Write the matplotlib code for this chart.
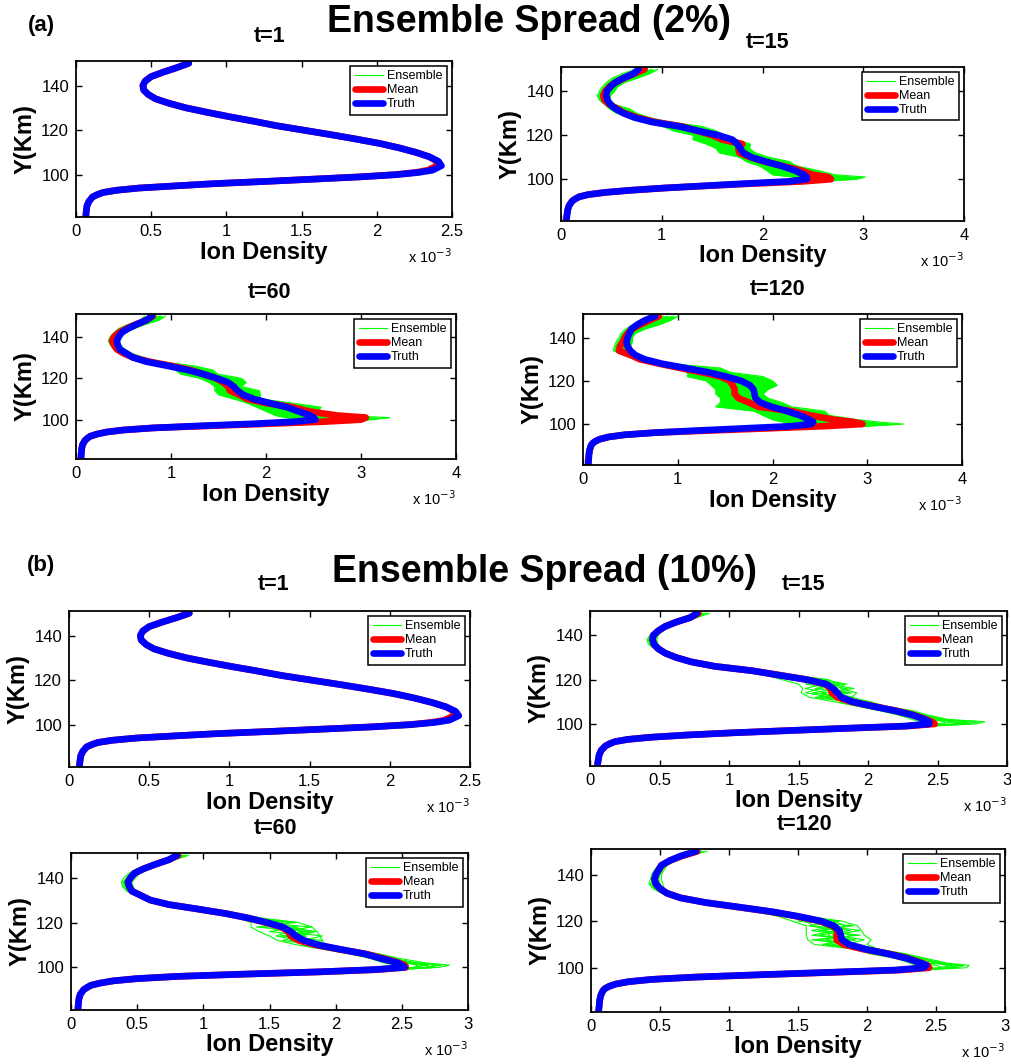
import numpy as np
import matplotlib
matplotlib.use('Agg')
import matplotlib.pyplot as plt

plt.rcParams['font.family'] = ['Liberation Sans', 'DejaVu Sans']

# altitude grid (km): lower branch shared by all members, upper part where the ensemble spreads
alt_low = [81, 82, 84, 86, 88, 90, 91, 92, 93, 94, 95, 96]
alt_up = [97, 98, 99, 100, 101, 102, 104, 106, 108, 110, 112, 114, 116, 118, 120,
          122, 124, 126, 128, 130, 132, 134, 136, 138, 140, 142, 144, 146, 148, 150]

# ion density (x 1e-3) - truth profiles
truth_t1 = [0.066, 0.066, 0.069, 0.073, 0.086, 0.11, 0.14, 0.18, 0.27, 0.42, 0.67, 0.93,
            1.27, 1.58, 1.89, 2.13, 2.28, 2.37, 2.43, 2.41, 2.35, 2.26, 2.15, 2.02, 1.86, 1.69, 1.51,
            1.33, 1.18, 1.02, 0.87, 0.73, 0.62, 0.53, 0.48, 0.45, 0.445, 0.46, 0.50, 0.58, 0.67, 0.75]
truth_t15 = [0.055, 0.055, 0.06, 0.066, 0.08, 0.11, 0.14, 0.18, 0.27, 0.44, 0.70, 1.03,
             1.43, 1.83, 2.26, 2.44, 2.44, 2.41, 2.32, 2.19, 2.03, 1.89, 1.81, 1.78, 1.75, 1.70, 1.56,
             1.36, 1.17, 0.90, 0.73, 0.62, 0.54, 0.49, 0.46, 0.45, 0.455, 0.49, 0.54, 0.62, 0.72, 0.77]
truth_t60 = [0.053, 0.053, 0.056, 0.06, 0.07, 0.095, 0.12, 0.15, 0.22, 0.32, 0.50, 0.81,
             1.31, 1.87, 2.29, 2.52, 2.50, 2.47, 2.34, 2.22, 2.04, 1.87, 1.76, 1.70, 1.66, 1.60, 1.48,
             1.34, 1.17, 0.96, 0.74, 0.60, 0.53, 0.46, 0.44, 0.43, 0.45, 0.48, 0.55, 0.64, 0.74, 0.80]
truth_t120 = [0.056, 0.056, 0.06, 0.063, 0.07, 0.085, 0.10, 0.13, 0.18, 0.27, 0.44, 0.76,
              1.22, 1.71, 2.20, 2.41, 2.43, 2.39, 2.29, 2.15, 1.99, 1.87, 1.82, 1.81, 1.80, 1.76, 1.67,
              1.51, 1.32, 1.08, 0.83, 0.65, 0.55, 0.50, 0.47, 0.46, 0.47, 0.49, 0.51, 0.57, 0.65, 0.76]

# ensemble means (upper grid)
mean_t1 = [1.27, 1.58, 1.88, 2.12, 2.26, 2.34, 2.40, 2.40, 2.35, 2.26, 2.15, 2.02, 1.86, 1.69, 1.51,
           1.33, 1.18, 1.02, 0.87, 0.73, 0.62, 0.53, 0.48, 0.45, 0.445, 0.46, 0.50, 0.58, 0.67, 0.75]
mean_a15 = [1.45, 1.9, 2.4, 2.68, 2.65, 2.5, 2.38, 2.2, 2.02, 1.88, 1.77, 1.76, 1.8, 1.6, 1.5,
            1.35, 1.2, 0.93, 0.76, 0.63, 0.56, 0.48, 0.43, 0.42, 0.44, 0.48, 0.54, 0.63, 0.73, 0.83]
mean_a60 = [1.4, 2.0, 2.6, 3.0, 3.05, 2.75, 2.45, 2.28, 2.0, 1.8, 1.72, 1.62, 1.6, 1.55, 1.47,
            1.34, 1.2, 1.0, 0.77, 0.6, 0.5, 0.43, 0.4, 0.38, 0.40, 0.45, 0.53, 0.63, 0.74, 0.81]
mean_a120 = [1.35, 1.95, 2.55, 2.95, 2.85, 2.65, 2.4, 2.2, 1.85, 1.75, 1.64, 1.6, 1.6, 1.58, 1.55,
             1.45, 1.25, 1.02, 0.8, 0.6, 0.5, 0.38, 0.39, 0.42, 0.44, 0.47, 0.52, 0.6, 0.7, 0.8]
mean_b15 = [1.43, 1.84, 2.28, 2.48, 2.46, 2.42, 2.33, 2.2, 2.04, 1.88, 1.78, 1.74, 1.73, 1.69, 1.56,
            1.37, 1.17, 0.9, 0.73, 0.62, 0.54, 0.49, 0.46, 0.45, 0.455, 0.49, 0.54, 0.62, 0.72, 0.78]
mean_b60 = [1.32, 1.88, 2.32, 2.53, 2.52, 2.48, 2.36, 2.23, 2.03, 1.85, 1.72, 1.66, 1.64, 1.59, 1.47,
            1.34, 1.17, 0.96, 0.74, 0.6, 0.53, 0.46, 0.44, 0.43, 0.45, 0.48, 0.55, 0.64, 0.74, 0.81]
mean_b120 = [1.24, 1.74, 2.24, 2.45, 2.44, 2.4, 2.3, 2.16, 1.97, 1.83, 1.78, 1.78, 1.79, 1.75, 1.66,
             1.5, 1.31, 1.07, 0.83, 0.65, 0.55, 0.5, 0.47, 0.46, 0.47, 0.49, 0.51, 0.57, 0.66, 0.77]

# ensemble members (upper grid)
ens_t1 = [
    [1.27, 1.58, 1.88, 2.11, 2.25, 2.33, 2.37, 2.39, 2.35, 2.26, 2.15, 2.02, 1.86, 1.69, 1.51,
     1.33, 1.18, 1.02, 0.87, 0.73, 0.62, 0.53, 0.48, 0.45, 0.445, 0.46, 0.50, 0.58, 0.67, 0.75],
    [1.27, 1.58, 1.89, 2.13, 2.28, 2.37, 2.44, 2.41, 2.35, 2.26, 2.15, 2.02, 1.86, 1.69, 1.51,
     1.33, 1.18, 1.02, 0.87, 0.73, 0.62, 0.53, 0.48, 0.45, 0.445, 0.46, 0.50, 0.58, 0.67, 0.75],
]
ens_a15 = [
    [1.52, 2.05, 2.6, 2.93, 3.02, 2.72, 2.55, 2.33, 2.27, 2.06, 1.93, 1.87, 1.88, 1.74, 1.62,
     1.54, 1.4, 1.08, 0.88, 0.75, 0.68, 0.53, 0.49, 0.49, 0.53, 0.56, 0.63, 0.76, 0.88, 0.96],
    [1.36, 1.77, 2.1, 2.37, 2.3, 2.1, 2.04, 1.97, 1.84, 1.77, 1.57, 1.54, 1.44, 1.31, 1.31,
     1.11, 1.04, 0.84, 0.71, 0.55, 0.48, 0.43, 0.38, 0.36, 0.38, 0.41, 0.45, 0.51, 0.61, 0.74],
    [1.48, 1.95, 2.45, 2.72, 2.86, 2.6, 2.44, 2.26, 2.1, 1.95, 1.74, 1.68, 1.62, 1.5, 1.45,
     1.28, 1.26, 0.96, 0.78, 0.66, 0.6, 0.47, 0.42, 0.41, 0.44, 0.47, 0.58, 0.68, 0.8, 0.9],
    [1.44, 1.9, 2.35, 2.6, 2.66, 2.5, 2.28, 2.1, 1.95, 1.83, 1.88, 1.72, 1.8, 1.6, 1.55,
     1.46, 1.12, 0.92, 0.75, 0.6, 0.52, 0.5, 0.44, 0.4, 0.42, 0.52, 0.5, 0.58, 0.7, 0.82],
    [1.5, 2.0, 2.5, 2.82, 2.75, 2.65, 2.5, 2.35, 2.15, 2.0, 1.62, 1.6, 1.7, 1.45, 1.4,
     1.2, 1.0, 0.88, 0.7, 0.58, 0.5, 0.45, 0.4, 0.38, 0.4, 0.44, 0.48, 0.55, 0.66, 0.8],
    [1.4, 1.85, 2.2, 2.5, 2.55, 2.3, 2.15, 2.05, 1.9, 1.9, 1.7, 1.82, 1.55, 1.65, 1.5,
     1.38, 1.3, 1.0, 0.82, 0.7, 0.55, 0.48, 0.45, 0.43, 0.46, 0.5, 0.56, 0.65, 0.76, 0.86],
]
ens_a60 = [
    [1.5, 2.28, 2.88, 3.1, 3.3, 2.78, 2.54, 2.58, 2.28, 1.94, 1.94, 1.93, 1.74, 1.79, 1.74,
     1.49, 1.44, 1.24, 0.89, 0.71, 0.59, 0.51, 0.47, 0.45, 0.47, 0.51, 0.61, 0.73, 0.87, 0.94],
    [1.3, 1.8, 2.1, 2.4, 2.2, 2.1, 2.0, 1.9, 1.8, 1.66, 1.5, 1.46, 1.46, 1.4, 1.3,
     1.1, 1.05, 0.9, 0.68, 0.55, 0.45, 0.40, 0.36, 0.34, 0.36, 0.40, 0.45, 0.55, 0.68, 0.72],
    [1.42, 2.1, 2.7, 2.95, 3.1, 2.6, 2.4, 2.35, 2.1, 1.8, 1.85, 1.6, 1.55, 1.7, 1.45,
     1.42, 1.3, 1.1, 0.8, 0.62, 0.55, 0.45, 0.42, 0.38, 0.40, 0.46, 0.5, 0.6, 0.78, 0.85],
    [1.36, 1.95, 2.45, 2.75, 2.8, 2.45, 2.25, 2.15, 1.95, 1.75, 1.65, 1.85, 1.65, 1.5, 1.6,
     1.25, 1.15, 0.95, 0.72, 0.65, 0.5, 0.48, 0.4, 0.4, 0.43, 0.44, 0.56, 0.66, 0.72, 0.8],
    [1.45, 2.2, 2.8, 3.05, 2.9, 2.7, 2.45, 2.2, 2.2, 1.9, 1.6, 1.55, 1.7, 1.55, 1.35,
     1.35, 1.2, 1.05, 0.75, 0.58, 0.48, 0.42, 0.38, 0.36, 0.38, 0.42, 0.5, 0.58, 0.74, 0.88],
    [1.34, 1.9, 2.3, 2.6, 2.5, 2.3, 2.1, 2.0, 1.85, 1.7, 1.78, 1.5, 1.5, 1.65, 1.5,
     1.2, 1.1, 0.98, 0.7, 0.68, 0.58, 0.5, 0.45, 0.42, 0.45, 0.48, 0.58, 0.7, 0.8, 0.9],
]
ens_a120 = [
    [1.5, 2.3, 3.0, 3.38, 3.1, 2.9, 2.6, 2.55, 2.2, 2.1, 1.95, 1.9, 1.95, 2.05, 2.0,
     1.9, 1.55, 1.45, 0.9, 0.72, 0.6, 0.52, 0.5, 0.52, 0.52, 0.55, 0.65, 0.8, 0.92, 1.0],
    [1.2, 1.6, 2.0, 2.2, 2.1, 2.0, 1.9, 1.8, 1.4, 1.45, 1.45, 1.4, 1.4, 1.35, 1.3,
     1.1, 1.1, 0.95, 0.75, 0.55, 0.42, 0.32, 0.33, 0.35, 0.38, 0.40, 0.45, 0.52, 0.65, 0.7],
    [1.4, 2.1, 2.7, 3.1, 2.95, 2.7, 2.35, 2.3, 1.9, 1.95, 1.7, 1.55, 1.75, 1.6, 1.8,
     1.6, 1.4, 1.15, 0.82, 0.65, 0.5, 0.4, 0.42, 0.4, 0.45, 0.5, 0.55, 0.7, 0.85, 0.9],
    [1.3, 1.85, 2.4, 2.75, 2.6, 2.45, 2.2, 2.05, 1.7, 1.6, 1.85, 1.7, 1.5, 1.85, 1.55,
     1.3, 1.25, 1.05, 0.78, 0.6, 0.55, 0.45, 0.38, 0.45, 0.42, 0.45, 0.5, 0.6, 0.72, 0.85],
    [1.45, 2.2, 2.85, 3.2, 2.8, 2.55, 2.5, 2.4, 2.05, 1.8, 1.6, 1.8, 1.65, 1.45, 1.4,
     1.75, 1.35, 1.3, 0.85, 0.7, 0.45, 0.35, 0.36, 0.38, 0.4, 0.48, 0.6, 0.75, 0.8, 0.95],
    [1.25, 1.75, 2.25, 2.5, 2.35, 2.2, 2.0, 1.95, 1.55, 1.7, 1.55, 1.45, 1.85, 1.7, 1.65,
     1.4, 1.2, 1.0, 0.8, 0.62, 0.52, 0.48, 0.45, 0.48, 0.5, 0.52, 0.6, 0.68, 0.78, 0.88],
]
ens_b15 = [
    [1.47, 1.95, 2.45, 2.78, 2.84, 2.58, 2.43, 2.32, 2.12, 2.02, 1.88, 1.92, 1.8, 1.83, 1.7,
     1.48, 1.24, 0.94, 0.77, 0.65, 0.57, 0.52, 0.49, 0.48, 0.49, 0.52, 0.57, 0.65, 0.77, 0.86],
    [1.41, 1.81, 2.22, 2.4, 2.37, 2.32, 2.22, 2.08, 1.92, 1.76, 1.58, 1.52, 1.53, 1.5, 1.38,
     1.27, 1.11, 0.86, 0.69, 0.59, 0.51, 0.46, 0.42, 0.41, 0.43, 0.47, 0.52, 0.59, 0.69, 0.76],
    [1.45, 1.9, 2.4, 2.65, 2.7, 2.5, 2.38, 2.25, 2.08, 1.95, 1.7, 1.85, 1.62, 1.78, 1.65,
     1.42, 1.2, 0.92, 0.75, 0.64, 0.56, 0.51, 0.48, 0.47, 0.48, 0.51, 0.56, 0.64, 0.75, 0.82],
    [1.42, 1.86, 2.3, 2.55, 2.55, 2.45, 2.3, 2.15, 2.0, 1.82, 1.85, 1.6, 1.78, 1.55, 1.6,
     1.32, 1.15, 0.88, 0.71, 0.6, 0.52, 0.47, 0.44, 0.43, 0.44, 0.48, 0.53, 0.6, 0.7, 0.79],
    [1.44, 1.88, 2.35, 2.72, 2.6, 2.55, 2.4, 2.28, 2.1, 1.98, 1.65, 1.7, 1.55, 1.68, 1.45,
     1.45, 1.22, 0.9, 0.74, 0.62, 0.55, 0.5, 0.46, 0.45, 0.46, 0.5, 0.55, 0.62, 0.73, 0.8],
    [1.43, 1.83, 2.25, 2.45, 2.48, 2.38, 2.25, 2.12, 1.96, 1.8, 1.9, 1.75, 1.85, 1.62, 1.72,
     1.4, 1.18, 0.91, 0.72, 0.61, 0.53, 0.48, 0.45, 0.44, 0.45, 0.49, 0.54, 0.61, 0.71, 0.8],
    [1.44, 1.89, 2.36, 2.6, 2.75, 2.52, 2.36, 2.22, 2.06, 1.92, 1.8, 1.66, 1.9, 1.72, 1.52,
     1.44, 1.21, 0.93, 0.76, 0.63, 0.55, 0.5, 0.44, 0.42, 0.44, 0.5, 0.56, 0.64, 0.76, 0.84],
    [1.42, 1.85, 2.28, 2.5, 2.62, 2.44, 2.28, 2.18, 2.02, 1.86, 1.62, 1.88, 1.7, 1.8, 1.62,
     1.34, 1.14, 0.89, 0.7, 0.6, 0.52, 0.47, 0.43, 0.42, 0.44, 0.48, 0.53, 0.6, 0.7, 0.79],
    [1.46, 1.92, 2.42, 2.7, 2.8, 2.55, 2.4, 2.3, 2.1, 1.85, 1.75, 1.55, 1.65, 1.85, 1.55,
     1.46, 1.23, 0.92, 0.75, 0.63, 0.55, 0.5, 0.47, 0.46, 0.47, 0.51, 0.56, 0.63, 0.74, 0.84],
]
ens_b60 = [
    [1.38, 1.98, 2.48, 2.78, 2.86, 2.68, 2.48, 2.33, 2.13, 1.92, 1.9, 1.88, 1.86, 1.82, 1.72,
     1.44, 1.24, 1.01, 0.79, 0.64, 0.57, 0.49, 0.47, 0.46, 0.49, 0.52, 0.59, 0.69, 0.79, 0.89],
    [1.3, 1.85, 2.26, 2.46, 2.46, 2.36, 2.26, 2.11, 1.91, 1.71, 1.56, 1.5, 1.42, 1.36, 1.36,
     1.26, 1.11, 0.91, 0.71, 0.57, 0.49, 0.42, 0.39, 0.38, 0.4, 0.44, 0.5, 0.6, 0.7, 0.77],
    [1.35, 1.95, 2.42, 2.7, 2.75, 2.6, 2.42, 2.28, 2.08, 1.85, 1.8, 1.62, 1.75, 1.55, 1.65,
     1.38, 1.2, 0.98, 0.77, 0.62, 0.55, 0.47, 0.45, 0.44, 0.47, 0.5, 0.57, 0.67, 0.77, 0.86],
    [1.33, 1.9, 2.35, 2.6, 2.62, 2.52, 2.38, 2.2, 2.0, 1.8, 1.65, 1.78, 1.5, 1.72, 1.45,
     1.32, 1.16, 0.94, 0.73, 0.59, 0.51, 0.44, 0.41, 0.4, 0.43, 0.46, 0.52, 0.62, 0.72, 0.8],
    [1.36, 1.92, 2.45, 2.75, 2.65, 2.55, 2.45, 2.25, 2.05, 1.88, 1.72, 1.55, 1.65, 1.45, 1.55,
     1.4, 1.22, 0.99, 0.76, 0.61, 0.54, 0.46, 0.43, 0.42, 0.45, 0.49, 0.55, 0.65, 0.75, 0.84],
    [1.31, 1.87, 2.3, 2.55, 2.55, 2.45, 2.3, 2.15, 1.95, 1.75, 1.85, 1.7, 1.82, 1.65, 1.5,
     1.3, 1.14, 0.93, 0.72, 0.58, 0.5, 0.43, 0.4, 0.39, 0.42, 0.45, 0.51, 0.61, 0.71, 0.79],
    [1.34, 1.93, 2.4, 2.68, 2.8, 2.62, 2.4, 2.3, 2.1, 1.9, 1.75, 1.9, 1.6, 1.82, 1.4,
     1.42, 1.21, 0.99, 0.77, 0.62, 0.55, 0.47, 0.42, 0.4, 0.44, 0.5, 0.57, 0.67, 0.78, 0.87],
    [1.32, 1.89, 2.33, 2.58, 2.7, 2.5, 2.35, 2.24, 2.02, 1.78, 1.9, 1.58, 1.8, 1.4, 1.7,
     1.36, 1.18, 0.96, 0.74, 0.6, 0.52, 0.45, 0.41, 0.4, 0.43, 0.47, 0.54, 0.63, 0.74, 0.83],
    [1.35, 1.94, 2.44, 2.72, 2.68, 2.58, 2.44, 2.3, 2.1, 1.86, 1.6, 1.72, 1.85, 1.6, 1.6,
     1.4, 1.2, 0.97, 0.75, 0.61, 0.53, 0.46, 0.42, 0.41, 0.44, 0.48, 0.56, 0.66, 0.76, 0.85],
]
ens_b120 = [
    [1.3, 1.85, 2.4, 2.72, 2.74, 2.58, 2.43, 2.28, 2.08, 2.0, 2.03, 1.98, 1.96, 1.93, 1.82,
     1.58, 1.38, 1.13, 0.87, 0.69, 0.59, 0.53, 0.52, 0.51, 0.51, 0.53, 0.55, 0.62, 0.71, 0.84],
    [1.22, 1.7, 2.18, 2.4, 2.36, 2.31, 2.21, 2.02, 1.91, 1.62, 1.57, 1.56, 1.56, 1.56, 1.46,
     1.36, 1.21, 1.01, 0.79, 0.61, 0.51, 0.45, 0.42, 0.43, 0.44, 0.46, 0.49, 0.54, 0.63, 0.73],
    [1.28, 1.8, 2.35, 2.62, 2.65, 2.5, 2.38, 2.22, 2.02, 1.9, 1.7, 1.9, 1.68, 1.85, 1.75,
     1.52, 1.34, 1.1, 0.85, 0.67, 0.57, 0.51, 0.49, 0.48, 0.49, 0.51, 0.53, 0.6, 0.69, 0.8],
    [1.25, 1.76, 2.28, 2.55, 2.5, 2.42, 2.32, 2.12, 1.95, 1.75, 1.92, 1.65, 1.88, 1.62, 1.55,
     1.42, 1.28, 1.05, 0.81, 0.63, 0.53, 0.47, 0.44, 0.44, 0.45, 0.47, 0.5, 0.56, 0.64, 0.75],
    [1.27, 1.78, 2.32, 2.65, 2.58, 2.52, 2.4, 2.25, 2.05, 1.95, 1.65, 1.82, 1.6, 1.78, 1.62,
     1.55, 1.36, 1.12, 0.86, 0.68, 0.58, 0.52, 0.5, 0.49, 0.5, 0.52, 0.54, 0.61, 0.7, 0.82],
    [1.23, 1.72, 2.22, 2.48, 2.45, 2.38, 2.28, 2.08, 1.92, 1.68, 1.8, 1.72, 1.75, 1.7, 1.7,
     1.46, 1.25, 1.03, 0.8, 0.62, 0.52, 0.46, 0.43, 0.45, 0.46, 0.48, 0.5, 0.55, 0.65, 0.76],
    [1.26, 1.77, 2.3, 2.6, 2.68, 2.5, 2.36, 2.2, 2.05, 1.85, 1.98, 1.75, 1.95, 1.68, 1.8,
     1.5, 1.33, 1.09, 0.84, 0.66, 0.56, 0.5, 0.46, 0.44, 0.46, 0.5, 0.53, 0.59, 0.68, 0.8],
    [1.24, 1.74, 2.26, 2.52, 2.62, 2.45, 2.34, 2.18, 2.0, 1.92, 1.6, 1.95, 1.65, 1.9, 1.5,
     1.54, 1.3, 1.06, 0.82, 0.64, 0.54, 0.48, 0.45, 0.44, 0.46, 0.49, 0.52, 0.58, 0.67, 0.78],
    [1.27, 1.79, 2.33, 2.66, 2.7, 2.55, 2.4, 2.26, 2.08, 1.7, 1.88, 1.6, 1.8, 1.58, 1.78,
     1.44, 1.3, 1.08, 0.83, 0.66, 0.57, 0.51, 0.48, 0.47, 0.48, 0.5, 0.53, 0.6, 0.68, 0.8],
]

W, H = 1011, 1064
fig = plt.figure(figsize=(W / 100, H / 100), dpi=100)


def rect(l, t, r, b):
    return [l / W, 1 - b / H, (r - l) / W, (b - t) / H]


def ftext(x, y, s, **kw):
    fig.text(x / W, 1 - y / H, s, ha='center', va='center', fontweight='bold', **kw)


def panel(box, truth, mean_up, members, xmax, xticks, fill):
    ax = fig.add_axes(rect(*box))
    y_full = alt_low + alt_up
    low = truth[:len(alt_low)]
    green = (0, 1, 0)
    if fill:
        ax.fill_betweenx(alt_up, np.min(members, axis=0), np.max(members, axis=0),
                         color=green, lw=0)
    for i, m in enumerate(members):
        ax.plot(low + m, y_full, color=green, lw=0.8,
                label='Ensemble' if i == 0 else None)
    ax.plot(low + mean_up, y_full, color=(1, 0, 0), lw=4.8, label='Mean',
            solid_capstyle='round', solid_joinstyle='round')
    ax.plot(truth, y_full, color=(0, 0, 1), lw=4.8, label='Truth',
            solid_capstyle='round', solid_joinstyle='round')
    ax.set_xlim(0, xmax)
    ax.set_ylim(81, 151)
    ax.set_xticks(xticks)
    ax.set_xticklabels(['%g' % v for v in xticks])
    ax.set_yticks([100, 120, 140])
    ax.tick_params(direction='in', length=4, width=1, top=True, right=True,
                   labelsize=12, pad=5)
    for s in ax.spines.values():
        s.set_linewidth(1.3)
    leg = ax.legend(loc='upper right', fontsize=9, handlelength=2.3, handletextpad=0.3,
                    labelspacing=0.15, borderpad=0.35, borderaxespad=0.4,
                    fancybox=False, framealpha=1)
    leg.get_frame().set_edgecolor('black')
    leg.get_frame().set_linewidth(1.1)
    ax.annotate('Ion Density', xy=(0.5, 0), xycoords='axes fraction', xytext=(0, -35),
                textcoords='offset pixels', ha='center', va='center',
                fontsize=17, fontweight='bold')
    ax.annotate(r'x 10$^{-3}$', xy=(1, 0), xycoords='axes fraction', xytext=(0, -40),
                textcoords='offset pixels', ha='right', va='center', fontsize=10.5)
    ax.annotate('Y(Km)', xy=(0, 0.5), xycoords='axes fraction', xytext=(-51, 0),
                textcoords='offset pixels', ha='center', va='center', rotation=90,
                fontsize=17, fontweight='bold')
    return ax


ticks25 = [0, 0.5, 1, 1.5, 2, 2.5]
ticks4 = [0, 1, 2, 3, 4]
ticks3 = [0, 0.5, 1, 1.5, 2, 2.5, 3]

panel((76, 61, 452, 217), truth_t1, mean_t1, ens_t1, 2.5, ticks25, False)
panel((561, 67, 964, 221), truth_t15, mean_a15, ens_a15, 4, ticks4, True)
panel((76, 314, 456, 459), truth_t60, mean_a60, ens_a60, 4, ticks4, True)
panel((583, 314, 962, 465), truth_t120, mean_a120, ens_a120, 4, ticks4, True)
panel((69, 611, 470, 767), truth_t1, mean_t1, ens_t1, 2.5, ticks25, False)
panel((590, 611, 1007, 766), truth_t15, mean_b15, ens_b15, 3, ticks3, False)
panel((71, 853, 468, 1010), truth_t60, mean_b60, ens_b60, 3, ticks3, False)
panel((591, 849, 1005, 1012), truth_t120, mean_b120, ens_b120, 3, ticks3, False)

ftext(41, 25, '(a)', fontsize=16)
ftext(529, 22, 'Ensemble Spread (2%)', fontsize=27)
ftext(270, 36, 't=1', fontsize=15.5)
ftext(768, 42, 't=15', fontsize=15.5)
ftext(269, 293, 't=60', fontsize=15.5)
ftext(778, 290, 't=120', fontsize=15.5)
ftext(41, 565, '(b)', fontsize=16)
ftext(544, 572, 'Ensemble Spread (10%)', fontsize=27)
ftext(274, 585, 't=1', fontsize=15.5)
ftext(804, 585, 't=15', fontsize=15.5)
ftext(275, 828, 't=60', fontsize=15.5)
ftext(805, 825, 't=120', fontsize=15.5)

fig.savefig('out.png', dpi=100)
